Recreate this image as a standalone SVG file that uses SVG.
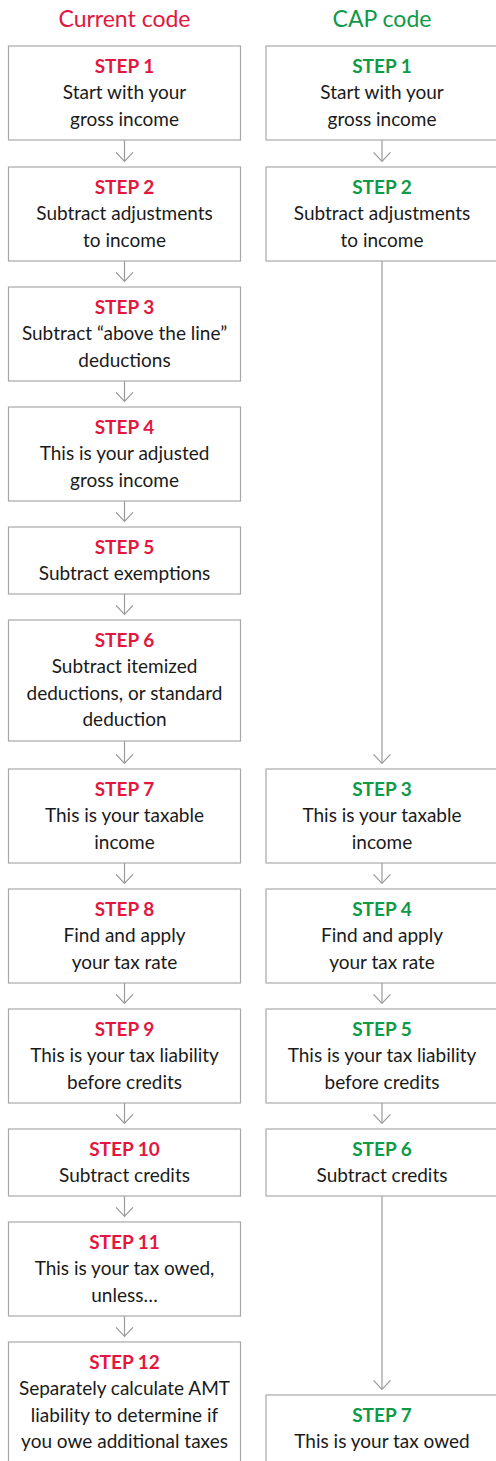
<svg xmlns="http://www.w3.org/2000/svg" width="496" height="1461" viewBox="0 0 496 1461">
<defs>
<style>
.box{fill:#fff;stroke:#a8a8a8;stroke-width:1.2}
.t{font-family:Lato,"Liberation Sans",sans-serif;font-size:19px;fill:#1a1a1a;text-anchor:middle}
.s{font-weight:bold}
.r{fill:#e3173d}
.g{fill:#0f9a48}
.h{font-family:Lato,"Liberation Sans",sans-serif;font-size:23px;text-anchor:middle}
.c{fill:none;stroke:#9a9a9a;stroke-width:1.2}
</style>
<marker id="ah" viewBox="0 0 10 18" markerWidth="10" markerHeight="18" refX="9.4" refY="9" markerUnits="userSpaceOnUse" orient="auto">
<path d="M0.2,0.5 L9.2,9 L0.2,17.5" fill="none" stroke="#9a9a9a" stroke-width="1.2"/>
</marker>
</defs>
<rect width="496" height="1461" fill="#fff"/>
<text class="h r" x="124.5" y="27">Current code</text>
<text class="h g" x="382" y="27">CAP code</text>

<g id="connectors">
<line class="c" x1="124.5" y1="140" x2="124.5" y2="161.5" marker-end="url(#ah)"/>
<line class="c" x1="124.5" y1="261" x2="124.5" y2="281.5" marker-end="url(#ah)"/>
<line class="c" x1="124.5" y1="381" x2="124.5" y2="401.5" marker-end="url(#ah)"/>
<line class="c" x1="124.5" y1="501" x2="124.5" y2="521.5" marker-end="url(#ah)"/>
<line class="c" x1="124.5" y1="594" x2="124.5" y2="614.5" marker-end="url(#ah)"/>
<line class="c" x1="124.5" y1="741" x2="124.5" y2="763.5" marker-end="url(#ah)"/>
<line class="c" x1="124.5" y1="863" x2="124.5" y2="883.5" marker-end="url(#ah)"/>
<line class="c" x1="124.5" y1="983" x2="124.5" y2="1003.5" marker-end="url(#ah)"/>
<line class="c" x1="124.5" y1="1103" x2="124.5" y2="1123.5" marker-end="url(#ah)"/>
<line class="c" x1="124.5" y1="1196" x2="124.5" y2="1216.5" marker-end="url(#ah)"/>
<line class="c" x1="124.5" y1="1316" x2="124.5" y2="1336.5" marker-end="url(#ah)"/>
<line class="c" x1="382" y1="140" x2="382" y2="161.5" marker-end="url(#ah)"/>
<line class="c" x1="382" y1="261" x2="382" y2="763.5" marker-end="url(#ah)"/>
<line class="c" x1="382" y1="863" x2="382" y2="883.5" marker-end="url(#ah)"/>
<line class="c" x1="382" y1="983" x2="382" y2="1003.5" marker-end="url(#ah)"/>
<line class="c" x1="382" y1="1103" x2="382" y2="1123.5" marker-end="url(#ah)"/>
<line class="c" x1="382" y1="1196" x2="382" y2="1389.5" marker-end="url(#ah)"/>
</g>

<g id="cur1"><rect class="box" x="8.5" y="46" width="232" height="94"/>
<text class="t s r" x="124.5" y="72.7">STEP 1</text>
<text class="t" x="124.5" y="99.2">Start with your</text>
<text class="t" x="124.5" y="125.7">gross income</text></g>

<g id="cur2"><rect class="box" x="8.5" y="167" width="232" height="94"/>
<text class="t s r" x="124.5" y="193.7">STEP 2</text>
<text class="t" x="124.5" y="220.2">Subtract adjustments</text>
<text class="t" x="124.5" y="246.7">to income</text></g>

<g id="cur3"><rect class="box" x="8.5" y="287" width="232" height="94"/>
<text class="t s r" x="124.5" y="313.7">STEP 3</text>
<text class="t" x="124.5" y="340.2">Subtract “above the line”</text>
<text class="t" x="124.5" y="366.7">deductions</text></g>

<g id="cur4"><rect class="box" x="8.5" y="407" width="232" height="94"/>
<text class="t s r" x="124.5" y="433.7">STEP 4</text>
<text class="t" x="124.5" y="460.2">This is your adjusted</text>
<text class="t" x="124.5" y="486.7">gross income</text></g>

<g id="cur5"><rect class="box" x="8.5" y="527" width="232" height="67"/>
<text class="t s r" x="124.5" y="553.7">STEP 5</text>
<text class="t" x="124.5" y="580.2">Subtract exemptions</text></g>

<g id="cur6"><rect class="box" x="8.5" y="620" width="232" height="121"/>
<text class="t s r" x="124.5" y="646.7">STEP 6</text>
<text class="t" x="124.5" y="673.2">Subtract itemized</text>
<text class="t" x="124.5" y="699.7">deductions, or standard</text>
<text class="t" x="124.5" y="726.2">deduction</text></g>

<g id="cur7"><rect class="box" x="8.5" y="769" width="232" height="94"/>
<text class="t s r" x="124.5" y="795.7">STEP 7</text>
<text class="t" x="124.5" y="822.2">This is your taxable</text>
<text class="t" x="124.5" y="848.7">income</text></g>

<g id="cur8"><rect class="box" x="8.5" y="889" width="232" height="94"/>
<text class="t s r" x="124.5" y="915.7">STEP 8</text>
<text class="t" x="124.5" y="942.2">Find and apply</text>
<text class="t" x="124.5" y="968.7">your tax rate</text></g>

<g id="cur9"><rect class="box" x="8.5" y="1009" width="232" height="94"/>
<text class="t s r" x="124.5" y="1035.7">STEP 9</text>
<text class="t" x="124.5" y="1062.2">This is your tax liability</text>
<text class="t" x="124.5" y="1088.7">before credits</text></g>

<g id="cur10"><rect class="box" x="8.5" y="1129" width="232" height="67"/>
<text class="t s r" x="124.5" y="1155.7">STEP 10</text>
<text class="t" x="124.5" y="1182.2">Subtract credits</text></g>

<g id="cur11"><rect class="box" x="8.5" y="1222" width="232" height="94"/>
<text class="t s r" x="124.5" y="1248.7">STEP 11</text>
<text class="t" x="124.5" y="1275.2">This is your tax owed,</text>
<text class="t" x="124.5" y="1301.7">unless…</text></g>

<g id="cur12"><rect class="box" x="8.5" y="1342" width="232" height="150"/>
<text class="t s r" x="124.5" y="1368.5">STEP 12</text>
<text class="t" x="124.5" y="1395">Separately calculate AMT</text>
<text class="t" x="124.5" y="1421.5">liability to determine if</text>
<text class="t" x="124.5" y="1448">you owe additional taxes</text></g>

<g id="cap1"><rect class="box" x="266" y="46" width="232" height="94"/>
<text class="t s g" x="382" y="72.7">STEP 1</text>
<text class="t" x="382" y="99.2">Start with your</text>
<text class="t" x="382" y="125.7">gross income</text></g>

<g id="cap2"><rect class="box" x="266" y="167" width="232" height="94"/>
<text class="t s g" x="382" y="193.7">STEP 2</text>
<text class="t" x="382" y="220.2">Subtract adjustments</text>
<text class="t" x="382" y="246.7">to income</text></g>

<g id="cap3"><rect class="box" x="266" y="769" width="232" height="94"/>
<text class="t s g" x="382" y="795.7">STEP 3</text>
<text class="t" x="382" y="822.2">This is your taxable</text>
<text class="t" x="382" y="848.7">income</text></g>

<g id="cap4"><rect class="box" x="266" y="889" width="232" height="94"/>
<text class="t s g" x="382" y="915.7">STEP 4</text>
<text class="t" x="382" y="942.2">Find and apply</text>
<text class="t" x="382" y="968.7">your tax rate</text></g>

<g id="cap5"><rect class="box" x="266" y="1009" width="232" height="94"/>
<text class="t s g" x="382" y="1035.7">STEP 5</text>
<text class="t" x="382" y="1062.2">This is your tax liability</text>
<text class="t" x="382" y="1088.7">before credits</text></g>

<g id="cap6"><rect class="box" x="266" y="1129" width="232" height="67"/>
<text class="t s g" x="382" y="1155.7">STEP 6</text>
<text class="t" x="382" y="1182.2">Subtract credits</text></g>

<g id="cap7"><rect class="box" x="266" y="1395" width="232" height="100"/>
<text class="t s g" x="382" y="1421.7">STEP 7</text>
<text class="t" x="382" y="1448">This is your tax owed</text></g>
</svg>
